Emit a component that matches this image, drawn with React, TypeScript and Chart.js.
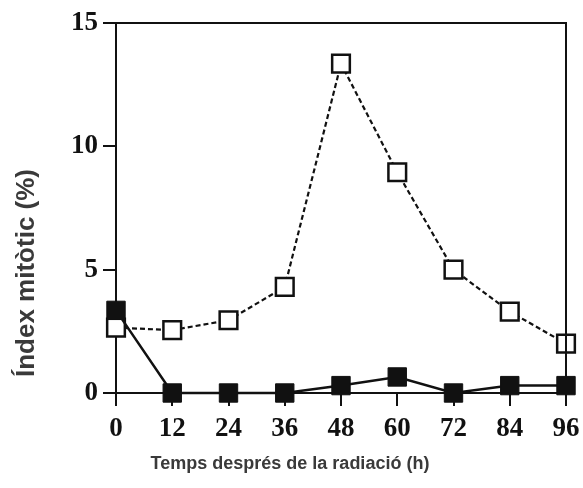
import React, { useEffect, useRef } from "react";
import { Chart, registerables } from "chart.js";

Chart.register(...registerables);

const hours = [0, 12, 24, 36, 48, 60, 72, 84, 96];
const filledSeries = [3.35, 0, 0, 0, 0.3, 0.65, 0, 0.3, 0.3];
const openSeries = [2.65, 2.55, 2.95, 4.3, 13.35, 8.95, 5.0, 3.3, 2.0];
const yTicks = [0, 5, 10, 15];
const xTitle = "Temps després de la radiació (h)";
const yTitle = "Índex mitòtic (%)";

const frameAndTitles = {
  id: "frameAndTitles",
  afterDatasetsDraw(chart: any) {
    const { ctx, chartArea } = chart;
    ctx.save();
    ctx.strokeStyle = "#111";
    ctx.lineWidth = 2;
    ctx.beginPath();
    ctx.moveTo(chartArea.left - 13, chartArea.top);
    ctx.lineTo(chartArea.right, chartArea.top);
    ctx.lineTo(chartArea.right, chartArea.bottom);
    ctx.stroke();
    ctx.restore();
  },
  afterDraw(chart: any) {
    const { ctx } = chart;
    ctx.save();
    ctx.fillStyle = "#3a3a3a";
    ctx.textAlign = "center";
    ctx.textBaseline = "middle";
    ctx.font = "bold 18px 'Liberation Sans', Arial, sans-serif";
    ctx.fillText(xTitle, 290, 464);
    ctx.translate(27, 273);
    ctx.rotate(-Math.PI / 2);
    ctx.font = "bold 26px 'Liberation Sans', Arial, sans-serif";
    ctx.fillText(yTitle, 0, 0);
    ctx.restore();
  },
};

export default function App() {
  const ref = useRef<HTMLCanvasElement>(null);
  useEffect(() => {
    if (!ref.current) return;
    const family = "'Liberation Serif', 'Times New Roman', serif";
    const chart = new Chart(ref.current, {
      type: "line",
      data: {
        datasets: [
          {
            data: hours.map((h, i) => ({ x: h, y: filledSeries[i] })),
            borderColor: "#111",
            borderWidth: 2.5,
            backgroundColor: "#111",
            pointStyle: "rect",
            pointRadius: 13,
            pointBorderWidth: 1,
            pointBackgroundColor: "#111",
            pointBorderColor: "#111",
            tension: 0,
            clip: false as any,
          },
          {
            data: hours.map((h, i) => ({ x: h, y: openSeries[i] })),
            borderColor: "#111",
            borderWidth: 2.2,
            borderDash: [5, 3],
            pointStyle: "rect",
            pointRadius: 12.5,
            pointBorderWidth: 2.5,
            pointBackgroundColor: "#fff",
            pointBorderColor: "#111",
            tension: 0,
            clip: false as any,
          },
        ],
      },
      options: {
        animation: false,
        responsive: false,
        maintainAspectRatio: false,
        layout: { padding: { left: 0, right: 17, top: 23, bottom: 0 } },
        plugins: { legend: { display: false }, tooltip: { enabled: false } },
        scales: {
          x: {
            type: "linear",
            min: 0,
            max: 96,
            afterFit: (s: any) => { s.height = 95; },
            afterBuildTicks: (s: any) => { s.ticks = hours.map((v) => ({ value: v })); },
            grid: { drawOnChartArea: false, drawTicks: true, tickLength: 13, color: "#111", lineWidth: 2 },
            border: { display: true, color: "#111", width: 2 },
            ticks: { color: "#111", font: { family, size: 27, weight: "bold", lineHeight: 1.6 }, padding: 1, maxRotation: 0 },
          },
          y: {
            type: "linear",
            min: 0,
            max: 15,
            afterFit: (s: any) => { s.width = 116; },
            afterBuildTicks: (s: any) => { s.ticks = yTicks.map((v) => ({ value: v })); },
            grid: { drawOnChartArea: false, drawTicks: true, tickLength: 13, color: "#111", lineWidth: 2 },
            border: { display: true, color: "#111", width: 2 },
            ticks: { color: "#111", font: { family, size: 27, weight: "bold" }, padding: 5 },
          },
        },
      },
      plugins: [frameAndTitles],
    });
    return () => chart.destroy();
  }, []);
  return (
    <div style={{ position: "fixed", left: 0, top: 0, width: 583, height: 488, background: "#fff" }}>
      <canvas ref={ref} width={583} height={488} style={{ width: 583, height: 488 }} />
    </div>
  );
}
